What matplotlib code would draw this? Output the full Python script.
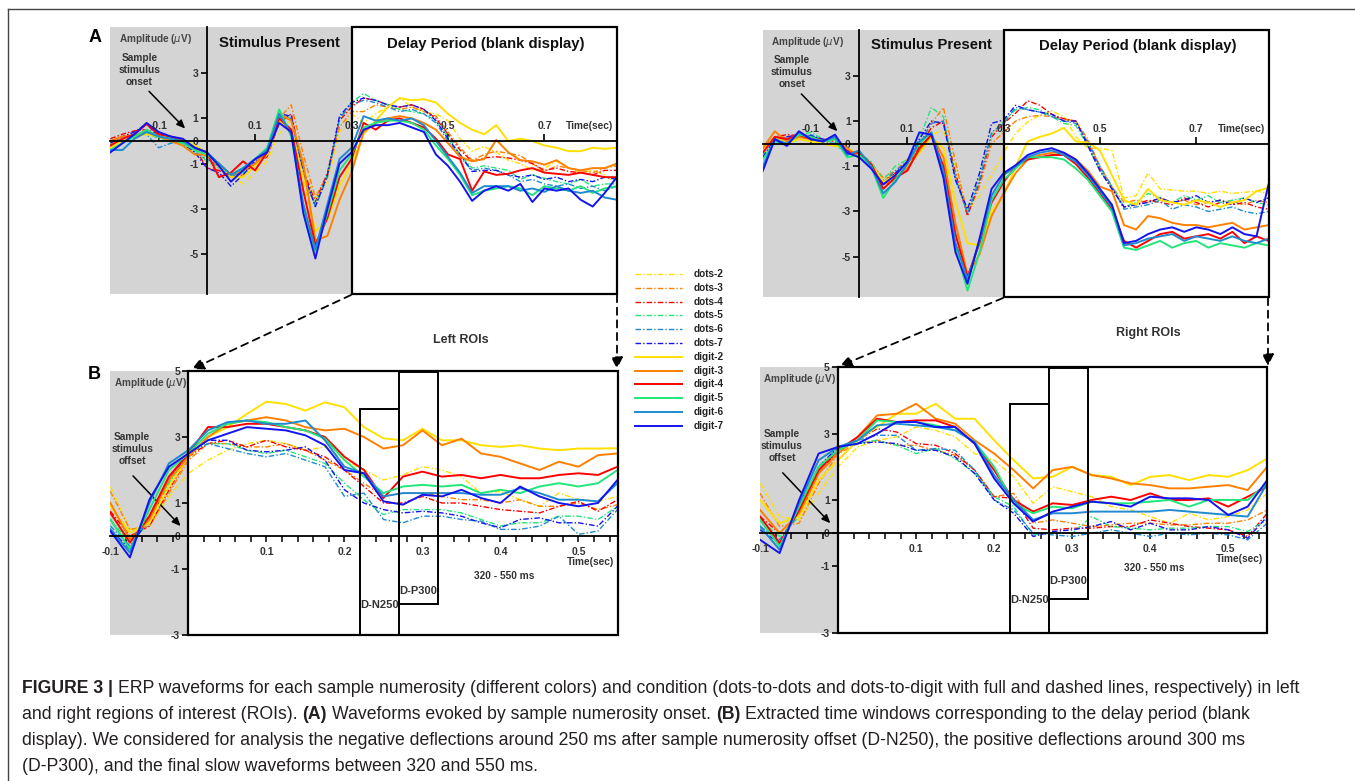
import numpy as np
import matplotlib.pyplot as plt
from matplotlib.patches import Rectangle, FancyArrowPatch
from matplotlib.lines import Line2D

plt.rcParams['font.family'] = ['Liberation Sans', 'DejaVu Sans']

W, H = 1355, 781

names = ['dots-2', 'dots-3', 'dots-4', 'dots-5', 'dots-6', 'dots-7',
         'digit-2', 'digit-3', 'digit-4', 'digit-5', 'digit-6', 'digit-7']
palette = ['#ffe000', '#ff8000', '#ff0000', '#22e67a', '#1f8ad0', '#1414ee']

# time axes (sec)
t_a = np.round(np.arange(-0.2, 0.851, 0.025), 3)
t_b = np.round(np.arange(-0.1, 0.551, 0.025), 3)

# panel A, left ROIs (uV), rows: baseline / stimulus / delay
a_left = {
    'dots-2': [-0.1, 0.1, 0.3, 0.35, 0.2, 0.15, 0.0, -0.3,
               -0.6, -1.1, -1.5, -1.9, -1.4, -0.9, 0.3, 1.0, -1.2, -2.6, -1.8, 0.4, 1.2,
               0.8, 1.2, 1.5, 1.9, 1.5, 1.3, 1.2, 0.9, 0.1, -0.45, -0.25, -0.5, -0.85, -1.0, -1.3, -1.2, -0.9, -1.2, -1.4, -1.3, -1.5, -1.9],
    'dots-3': [0.0, 0.2, 0.3, 0.4, 0.3, 0.1, -0.1, -0.35,
               -0.7, -1.2, -1.6, -1.5, -1.1, -0.6, 1.0, 1.6, -0.6, -2.5, -1.5, 0.6, 1.3,
               1.3, 1.6, 1.5, 1.4, 1.5, 1.3, 1.1, 0.4, -0.3, -0.85, -0.6, -0.45, -0.55, -0.65, -1.0, -1.35, -1.1, -1.2, -1.3, -1.4, -1.2, -1.1],
    'dots-4': [0.1, 0.3, 0.45, 0.5, 0.3, 0.2, 0.0, -0.3,
               -1.2, -1.3, -1.6, -1.4, -1.0, -0.7, 0.8, 1.2, -1.3, -2.7, -1.4, 0.9, 1.5,
               1.9, 1.8, 1.6, 1.5, 1.6, 1.4, 1.0, 0.3, -0.4, -0.9, -0.75, -0.7, -0.75, -0.85, -1.0, -1.3, -1.2, -1.35, -1.4, -1.5, -1.3, -1.3],
    'dots-5': [-0.2, 0.1, 0.25, 0.35, 0.1, -0.05, -0.1, -0.4,
               -0.9, -1.2, -1.5, -1.4, -1.0, -0.5, 1.1, 1.0, -1.6, -2.8, -1.5, 1.0, 1.7,
               2.1, 1.8, 1.6, 1.4, 1.3, 1.2, 0.9, 0.2, -0.6, -1.2, -1.1, -1.2, -1.3, -1.7, -1.5, -1.65, -1.8, -1.9, -1.7, -2.0, -1.9, -1.9],
    'dots-6': [-0.3, 0.0, 0.2, 0.3, -0.3, -0.1, -0.05, -0.5,
               -0.8, -1.1, -1.6, -1.3, -1.0, -0.6, 1.0, 1.0, -1.5, -2.9, -1.6, 1.0, 1.6,
               1.8, 1.7, 1.5, 1.3, 1.4, 1.2, 0.8, 0.0, -0.7, -1.3, -1.2, -1.3, -1.5, -1.8, -1.7, -1.9, -2.0, -1.9, -2.1, -2.0, -2.2, -2.0],
    'dots-7': [-0.1, 0.2, 0.4, 0.75, 0.2, 0.1, -0.1, -0.5,
               -1.2, -1.4, -2.0, -1.5, -0.9, -0.5, 1.2, 1.1, -1.4, -2.9, -1.5, 1.1, 1.7,
               1.9, 1.8, 1.6, 1.5, 1.6, 1.4, 0.9, 0.1, -0.6, -1.35, -1.3, -1.3, -1.5, -1.6, -1.5, -1.7, -1.6, -1.8, -1.7, -1.8, -1.6, -1.7],
    'digit-2': [-0.3, 0.0, 0.2, 0.3, 0.2, 0.15, 0.05, -0.2,
                -0.5, -1.0, -1.6, -1.6, -1.1, -0.6, 0.9, 0.5, -1.6, -4.0, -3.5, -2.0, -1.0,
                0.3, 0.9, 1.5, 1.9, 1.8, 1.85, 1.7, 1.2, 0.8, 0.5, 0.3, 0.7, 0.0, 0.1, 0.0, -0.2, -0.3, -0.45, -0.45, -0.3, -0.35, -0.3],
    'digit-3': [0.0, 0.2, 0.25, 0.4, 0.2, 0.0, -0.2, -0.6,
                -0.6, -1.0, -1.5, -1.3, -1.0, -0.4, 1.2, 0.9, -1.0, -4.4, -4.2, -2.6, -1.4,
                0.4, 0.8, 1.0, 1.1, 1.0, 0.8, 0.5, -0.1, -0.7, -0.9, -0.8, 0.05, -0.5, -0.85, -0.9, -1.05, -0.85, -1.2, -1.3, -1.2, -1.2, -1.0],
    'digit-4': [-0.2, 0.1, 0.3, 0.75, 0.3, 0.2, 0.0, -0.3,
                -0.5, -1.6, -1.4, -0.9, -1.3, -0.5, 1.0, 0.5, -2.2, -4.6, -3.4, -1.6, -0.8,
                0.8, 0.5, 0.9, 1.0, 0.8, 0.6, 0.1, -0.6, -0.8, -2.2, -1.35, -1.5, -1.45, -1.3, -1.2, -1.4, -1.45, -1.5, -1.4, -1.5, -1.6, -1.6],
    'digit-5': [-0.4, -0.1, 0.2, 0.5, 0.2, 0.1, -0.1, -0.4,
                -0.6, -1.0, -1.5, -1.2, -0.8, -0.3, 1.4, 0.2, -3.0, -4.9, -3.2, -1.3, -0.6,
                0.6, 0.8, 0.9, 0.9, 0.8, 0.5, -0.2, -0.8, -1.5, -2.4, -2.2, -2.1, -2.0, -2.1, -2.4, -2.0, -2.1, -2.2, -2.0, -2.3, -2.1, -2.0],
    'digit-6': [-0.4, -0.4, 0.1, 0.4, 0.2, 0.1, 0.0, -0.3,
                -0.5, -1.0, -1.5, -1.2, -0.8, -0.4, 1.2, 0.3, -2.8, -4.8, -2.8, -0.8, -0.3,
                1.1, 0.9, 1.0, 0.9, 1.0, 0.7, 0.0, -0.7, -1.4, -2.3, -2.0, -2.0, -2.0, -2.2, -2.1, -2.25, -2.0, -2.2, -2.3, -2.2, -2.5, -2.6],
    'digit-7': [-0.5, -0.1, 0.3, 0.8, 0.4, 0.2, 0.1, -0.3,
                -0.5, -1.1, -1.8, -1.3, -0.8, -0.5, 0.8, 0.4, -3.2, -5.2, -3.0, -1.0, -0.5,
                0.5, 0.7, 0.7, 0.8, 0.6, 0.4, -0.6, -1.1, -1.8, -2.65, -2.2, -2.0, -2.2, -1.9, -2.7, -2.1, -2.2, -2.1, -2.6, -2.9, -2.3, -1.6],
}

# panel A, right ROIs
a_right = {
    'dots-2': [-0.6, 0.1, 0.2, 0.3, 0.3, 0.1, -0.1, -0.3,
               -0.6, -1.0, -1.6, -1.3, -0.8, -0.3, 0.4, 0.6, -1.0, -3.0, -2.3, -1.4, -0.4,
               0.45, 0.97, 1.26, 1.45, 1.2, 0.3, -0.2, -0.2, -0.3, -2.4, -2.3, -1.3, -2.0, -2.05, -2.1, -2.1, -2.2, -2.1, -2.2, -2.15, -2.1, -2.2],
    'dots-3': [-0.3, 0.2, 0.3, 0.4, 0.3, 0.2, 0.1, -0.2,
               -0.5, -0.9, -1.5, -1.2, -0.7, -0.1, 0.9, 1.6, -0.8, -3.1, -1.9, 0.0, 0.5,
               1.0, 1.2, 1.25, 1.2, 1.1, 1.0, 0.2, -1.0, -1.9, -2.6, -2.5, -2.6, -2.4, -2.6, -2.5, -2.7, -2.6, -2.5, -2.6, -2.7, -2.5, -2.6],
    'dots-4': [-0.2, 0.3, 0.4, 0.35, 0.3, 0.2, 0.1, -0.3,
               -0.5, -1.0, -1.7, -1.3, -1.1, -0.1, 0.7, 1.0, -1.3, -3.2, -1.7, 0.3, 0.9,
               1.35, 1.9, 1.7, 1.3, 1.1, 1.0, 0.0, -1.1, -2.0, -2.8, -2.7, -2.5, -2.6, -2.7, -2.4, -2.6, -2.8, -2.6, -2.7, -2.6, -2.8, -2.9],
    'dots-5': [-0.5, 0.3, 0.1, 0.4, 0.5, 0.2, 0.0, -0.5,
               -0.4, -0.8, -1.6, -1.0, -0.7, 0.2, 1.6, 1.2, -1.6, -3.0, -1.5, 0.4, 1.0,
               1.5, 1.6, 1.5, 1.2, 0.9, 0.8, -0.1, -1.2, -1.9, -2.8, -2.6, -2.2, -2.4, -2.6, -2.3, -2.5, -2.3, -2.6, -2.5, -2.4, -2.6, -2.7],
    'dots-6': [-0.6, 0.1, 0.2, 0.3, 0.4, 0.1, 0.0, -0.4,
               -0.5, -0.9, -1.7, -1.2, -0.8, 0.0, 0.9, 1.0, -1.5, -3.1, -1.6, 0.5, 0.9,
               1.6, 1.5, 1.4, 1.2, 1.0, 0.9, 0.1, -1.0, -1.9, -2.9, -2.8, -2.7, -2.5, -2.9, -2.7, -2.8, -3.0, -2.9, -2.8, -3.0, -3.1, -3.0],
    'dots-7': [-0.6, 0.2, 0.3, 0.4, 0.35, 0.2, 0.2, -0.3,
               -0.6, -1.0, -1.8, -1.3, -0.8, 0.2, 1.0, 0.9, -1.6, -2.9, -1.3, 0.9, 1.05,
               1.7, 1.5, 1.4, 1.3, 1.0, 1.0, -0.1, -1.2, -2.0, -2.8, -2.7, -2.6, -2.4, -2.6, -2.5, -2.3, -2.6, -2.5, -2.7, -2.4, -2.6, -2.4],
    'digit-2': [-0.3, 0.3, 0.0, 0.2, 0.1, 0.0, -0.1, -0.2,
                -0.5, -0.9, -1.7, -1.4, -1.0, -0.4, 0.3, -0.2, -2.6, -4.4, -4.5, -3.0, -2.3,
                -1.0, 0.1, 0.3, 0.45, 0.7, 0.1, 0.05, -0.3, -1.4, -2.5, -2.7, -2.0, -2.5, -2.6, -2.7, -2.5, -2.6, -2.8, -2.6, -2.5, -2.1, -1.95],
    'digit-3': [-0.2, 0.55, 0.1, 0.3, 0.2, 0.1, 0.2, -0.2,
                -0.6, -1.0, -1.8, -1.6, -1.1, -0.3, 0.4, -0.6, -3.5, -5.8, -4.9, -3.2, -2.2,
                -1.3, -0.7, -0.5, -0.4, -0.4, -0.7, -1.2, -1.9, -2.1, -3.6, -3.8, -3.2, -3.3, -3.5, -3.6, -3.6, -3.7, -3.6, -3.5, -3.8, -3.7, -3.6],
    'digit-4': [-0.4, 0.3, 0.2, 0.4, 0.2, 0.1, 0.3, -0.4,
                -0.4, -0.9, -2.0, -1.5, -1.2, -0.2, 0.4, -1.0, -4.0, -5.9, -4.4, -2.6, -1.7,
                -1.0, -0.7, -0.6, -0.5, -0.5, -0.9, -1.5, -2.2, -2.9, -4.3, -4.6, -4.3, -4.0, -3.9, -4.2, -4.1, -4.0, -4.2, -3.9, -4.4, -4.1, -4.3],
    'digit-5': [-0.7, 0.1, 0.0, 0.4, 0.3, 0.1, 0.2, -0.6,
                -0.5, -1.0, -2.4, -1.6, -0.9, 0.0, 0.5, -1.4, -4.6, -6.5, -4.8, -2.5, -1.6,
                -1.1, -0.6, -0.6, -0.6, -0.7, -1.1, -1.6, -2.3, -3.0, -4.6, -4.7, -4.5, -4.3, -4.6, -4.4, -4.3, -4.6, -4.4, -4.5, -4.6, -4.4, -4.5],
    'digit-6': [-1.0, 0.2, 0.0, 0.5, 0.2, 0.1, 0.3, -0.5,
                -0.3, -1.0, -2.2, -1.7, -0.9, 0.1, 0.5, -1.2, -4.4, -6.0, -4.3, -2.3, -1.4,
                -1.0, -0.6, -0.4, -0.3, -0.5, -0.8, -1.4, -2.1, -2.8, -4.5, -4.4, -4.2, -4.1, -4.0, -4.3, -4.1, -4.2, -4.3, -4.1, -4.3, -4.4, -4.2],
    'digit-7': [-1.2, 0.2, -0.1, 0.55, 0.2, 0.1, 0.4, -0.4,
                -0.6, -1.1, -1.8, -1.4, -0.8, 0.5, 0.4, -1.5, -4.8, -6.2, -4.2, -2.0, -1.3,
                -0.95, -0.5, -0.3, -0.2, -0.4, -0.7, -1.3, -2.0, -2.7, -4.4, -4.3, -4.0, -3.8, -3.7, -3.9, -3.7, -3.8, -4.0, -3.7, -4.0, -4.1, -1.8],
}

# panel B, left ROIs (offset-locked, -0.1 .. 0.55 s)
b_left = {
    'dots-2': [1.5, 0.2, 0.3, 1.2, 1.9, 2.3, 2.6, 2.8, 2.9, 2.8, 2.6, 2.7, 2.3, 2.0, 1.7, 1.85, 2.1, 2.0, 1.8, 1.3, 1.35, 1.1, 0.9, 1.3, 1.1, 1.05, 1.2],
    'dots-3': [1.35, 0.2, 0.3, 1.3, 2.3, 2.8, 2.8, 2.7, 2.7, 2.8, 2.6, 2.3, 2.0, 1.6, 1.2, 1.3, 1.3, 1.2, 1.1, 1.1, 1.0, 1.1, 0.9, 0.9, 1.0, 0.8, 0.95],
    'dots-4': [0.75, 0.0, 0.3, 1.4, 2.4, 2.8, 2.9, 2.7, 2.9, 2.7, 2.6, 2.4, 2.0, 1.5, 1.0, 1.0, 1.2, 1.0, 1.0, 0.9, 0.8, 0.75, 0.7, 0.9, 1.05, 0.75, 1.1],
    'dots-5': [0.5, -0.2, 0.4, 1.6, 2.5, 2.8, 2.8, 2.6, 2.5, 2.6, 2.4, 2.2, 1.6, 1.1, 0.65, 0.8, 0.8, 0.8, 0.7, 0.5, 0.3, 0.4, 0.4, 0.6, 0.6, 0.5, 0.9],
    'dots-6': [0.3, -0.3, 0.5, 1.8, 2.5, 2.8, 2.65, 2.5, 2.4, 2.5, 2.3, 2.1, 1.2, 1.3, 0.5, 0.4, 0.6, 0.6, 0.5, 0.45, 0.2, 0.2, 0.3, 0.6, 0.05, 0.15, 0.8],
    'dots-7': [0.2, -0.4, 0.6, 1.7, 2.5, 2.9, 2.9, 2.6, 2.55, 2.6, 2.7, 2.3, 1.4, 1.0, 0.8, 0.7, 0.75, 0.7, 0.6, 0.4, 0.25, 0.5, 0.55, 0.4, 0.4, 0.3, 0.9],
    'digit-2': [0.9, 0.1, 0.4, 1.5, 2.4, 3.0, 3.3, 3.7, 4.07, 4.0, 3.8, 4.05, 3.9, 3.3, 2.96, 2.9, 3.25, 2.9, 2.9, 2.75, 2.7, 2.75, 2.65, 2.6, 2.65, 2.65, 2.66],
    'digit-3': [1.0, -0.1, 0.5, 1.7, 2.4, 3.0, 3.4, 3.5, 3.6, 3.5, 3.3, 3.2, 3.25, 3.0, 2.65, 2.75, 3.2, 2.75, 2.95, 2.5, 2.4, 2.2, 2.0, 2.25, 2.1, 2.45, 2.5],
    'digit-4': [0.7, -0.2, 0.6, 1.8, 2.5, 3.3, 3.3, 3.4, 3.4, 3.3, 3.2, 3.0, 2.4, 2.0, 1.15, 1.8, 1.95, 1.8, 1.85, 1.75, 1.85, 1.75, 1.75, 1.85, 1.9, 1.85, 2.1],
    'digit-5': [0.5, -0.4, 0.8, 2.0, 2.5, 3.1, 3.4, 3.5, 3.45, 3.3, 3.2, 2.95, 2.3, 1.8, 1.3, 1.5, 1.55, 1.5, 1.55, 1.3, 1.4, 1.3, 1.5, 1.6, 1.5, 1.6, 2.0],
    'digit-6': [0.2, -0.5, 1.0, 2.2, 2.6, 3.2, 3.45, 3.5, 3.4, 3.4, 3.5, 2.9, 2.1, 1.9, 1.2, 1.3, 1.3, 1.3, 1.3, 1.25, 1.25, 1.45, 1.3, 1.1, 1.1, 1.05, 1.6],
    'digit-7': [0.15, -0.65, 1.1, 2.1, 2.5, 2.9, 3.1, 3.3, 3.25, 3.2, 3.05, 2.75, 2.0, 1.9, 1.05, 0.95, 1.25, 1.2, 1.4, 1.15, 1.0, 1.5, 1.2, 1.0, 0.9, 1.0, 1.7],
}

# panel B, right ROIs
b_right = {
    'dots-2': [1.5, 0.5, 0.4, 1.2, 2.0, 2.6, 2.8, 2.9, 3.2, 3.1, 2.9, 2.4, 2.2, 1.7, 0.9, 1.4, 1.25, 1.1, 0.8, 0.7, 0.5, 0.3, 0.6, 0.4, 0.5, 0.7, 1.2],
    'dots-3': [1.2, 0.2, 0.3, 1.5, 2.4, 2.7, 2.8, 2.65, 2.65, 2.5, 2.35, 1.9, 1.1, 1.2, 0.3, 0.4, 0.3, 0.2, 0.25, 0.3, 0.3, 0.25, 0.25, 0.3, 0.3, 0.4, 0.7],
    'dots-4': [0.5, 0.0, 0.6, 1.8, 2.5, 2.8, 3.15, 3.05, 2.7, 2.65, 2.4, 1.9, 1.1, 1.05, 0.15, 0.1, 0.15, 0.15, 0.2, 0.2, 0.4, 0.3, 0.2, 0.15, 0.1, -0.1, 0.6],
    'dots-5': [0.4, -0.1, 0.5, 1.9, 2.5, 2.7, 2.8, 2.65, 2.4, 2.55, 2.25, 1.8, 1.1, 0.8, -0.05, 0.0, 0.0, 0.5, 0.2, 0.15, 0.1, 0.15, 0.15, 0.2, 0.2, 0.05, 0.4],
    'dots-6': [0.2, -0.2, 0.6, 1.9, 2.6, 2.8, 2.95, 2.95, 2.5, 2.55, 2.5, 1.9, 1.0, 0.7, 0.0, -0.05, -0.1, 0.0, 0.1, 0.0, -0.1, 0.0, -0.05, 0.0, -0.05, -0.2, 0.3],
    'dots-7': [0.1, -0.3, 0.7, 2.0, 2.6, 2.7, 2.75, 2.7, 2.5, 2.5, 2.3, 1.8, 1.0, 0.6, -0.1, 0.05, 0.1, 0.2, 0.35, 0.1, 0.3, 0.1, 0.1, 0.2, 0.1, -0.15, 0.5],
    'digit-2': [1.0, 0.3, 0.5, 1.6, 2.2, 2.8, 3.2, 3.6, 3.6, 3.9, 3.45, 3.45, 2.8, 2.2, 1.65, 1.7, 2.0, 1.75, 1.7, 1.45, 1.7, 1.75, 1.6, 1.75, 1.7, 1.9, 2.25],
    'digit-3': [0.7, 0.0, 0.6, 1.8, 2.4, 2.9, 3.55, 3.6, 3.9, 3.45, 3.3, 2.8, 2.4, 1.9, 1.35, 1.9, 2.0, 1.75, 1.65, 1.5, 1.45, 1.35, 1.35, 1.4, 1.45, 1.3, 2.0],
    'digit-4': [0.5, -0.3, 0.7, 1.9, 2.5, 2.9, 3.45, 3.35, 3.4, 3.4, 3.2, 2.7, 1.9, 1.0, 0.65, 0.9, 0.85, 1.0, 1.1, 1.0, 1.2, 1.0, 1.0, 1.05, 0.8, 1.1, 1.4],
    'digit-5': [0.4, -0.4, 0.8, 2.0, 2.5, 2.8, 3.4, 3.35, 3.35, 3.25, 3.1, 2.75, 2.0, 0.9, 0.6, 0.8, 0.75, 0.95, 0.9, 0.9, 0.95, 1.0, 0.8, 1.0, 1.0, 1.0, 1.5],
    'digit-6': [0.2, -0.5, 0.9, 2.2, 2.6, 2.8, 3.25, 3.3, 3.25, 3.2, 3.1, 2.75, 1.75, 1.0, 0.4, 0.6, 0.6, 0.65, 0.65, 0.65, 0.65, 0.7, 0.65, 0.6, 0.55, 0.5, 1.5],
    'digit-7': [-0.2, -0.6, 1.0, 2.4, 2.6, 2.7, 3.0, 3.35, 3.35, 3.2, 3.2, 2.7, 1.65, 0.9, 0.35, 0.65, 0.8, 0.95, 0.9, 0.8, 1.1, 1.05, 1.05, 1.0, 0.55, 0.8, 1.6],
}

dash = (0, (4, 1.5, 1, 1.5))
txt = dict(fontweight='bold', color='#333333')
gray = '#d4d4d4'


def px_box(x0, y0, x1, y1):
    return [x0 / W, 1 - y1 / H, (x1 - x0) / W, (y1 - y0) / H]


def fx(x):
    return x / W


def fy(y):
    return 1 - y / H


def draw_waves(ax, t, data):
    for i, name in enumerate(names[:6]):
        ax.plot(t, data[name], color=palette[i], lw=1.0, ls=dash, zorder=3)
    for i, name in enumerate(names[6:]):
        ax.plot(t, data[name], color=palette[i], lw=1.4, zorder=4)


def axes_common(ax):
    for s in ['top', 'right']:
        ax.spines[s].set_visible(False)
    for s in ['left', 'bottom']:
        ax.spines[s].set_position(('data', 0))
        ax.spines[s].set_linewidth(1.3)
        ax.spines[s].set_zorder(5)
    ax.patch.set_alpha(0)


def panel_a(ax, data):
    ax.set_xlim(-0.2, 0.85)
    ax.set_ylim(-6.77, 5.03)
    axes_common(ax)
    ax.axvspan(-0.2, 0.3, color=gray, lw=0, zorder=0)
    ax.add_patch(Rectangle((0.3, -6.77), 0.55, 11.8, fill=False, ec='k', lw=1.6,
                           zorder=6, clip_on=False))
    ax.set_yticks([3, 1, 0, -1, -3, -5])
    ax.set_yticklabels(['3', '1', '0', '-1', '-3', '-5'])
    ax.set_xticks([-0.1, 0.1, 0.3, 0.5, 0.7])
    ax.set_xticklabels([])
    ax.tick_params(axis='x', direction='in', length=5, width=1.2)
    ax.tick_params(axis='y', direction='out', length=4, width=1.2, labelsize=7.5, pad=2)
    for lab in ax.get_yticklabels():
        lab.set_fontweight('bold')
        lab.set_color('#333333')
    for x, s in zip([-0.1, 0.1, 0.3, 0.5, 0.7], ['-0.1', '0.1', '0.3', '0.5', '0.7']):
        ax.text(x, 0.65, s, ha='center', va='center', fontsize=7.5, zorder=7, **txt)
    ax.text(0.793, 0.66, 'Time(sec)', ha='center', va='center', fontsize=7.3, zorder=7, **txt)
    draw_waves(ax, t_a, data)
    ax.text(0.15, 4.35, 'Stimulus Present', ha='center', va='center', fontsize=10.7,
            fontweight='bold', color='#111111')
    ax.text(0.578, 4.3, 'Delay Period (blank display)', ha='center', va='center',
            fontsize=10.7, fontweight='bold', color='#111111')
    ax.text(-0.107, 4.5, r'Amplitude ($\mu$V)', ha='center', va='center', fontsize=7.2,
            fontweight='bold', color='#444444')
    ax.text(-0.14, 3.15, 'Sample\nstimulus\nonset', ha='center', va='center', fontsize=7.3,
            linespacing=1.25, **txt)
    ax.annotate('', xy=(-0.045, 0.55), xytext=(-0.12, 2.2),
                arrowprops=dict(arrowstyle='-|>,head_length=0.5,head_width=0.22',
                                color='k', lw=1.1, shrinkA=0, shrinkB=0))


def panel_b(ax, data, n_top, p_bot, win_y, n_y, p_y):
    ax.set_xlim(-0.1, 0.55)
    ax.set_ylim(-3, 5)
    axes_common(ax)
    ax.axvspan(-0.1, 0, color=gray, lw=0, zorder=0)
    ax.add_patch(Rectangle((0, -3), 0.55, 8, fill=False, ec='k', lw=1.6, zorder=6,
                           clip_on=False))
    ax.set_yticks([5, 3, 1, 0, -1, -3])
    ax.set_yticklabels(['5', '3', '1', '0', '-1', '-3'])
    ax.tick_params(axis='y', direction='out', length=4, width=1.2, labelsize=7.5, pad=2)
    for lab in ax.get_yticklabels():
        lab.set_fontweight('bold')
        lab.set_color('#333333')
    xt = np.round(np.arange(-0.08, 0.541, 0.02), 2)
    ax.set_xticks(xt)
    ax.set_xticklabels([])
    ax.tick_params(axis='x', direction='out', length=4, width=1.1)
    for x, s in zip([-0.1, 0.1, 0.2, 0.3, 0.4, 0.5],
                    ['-0.1', '0.1', '0.2', '0.3', '0.4', '0.5']):
        ax.text(x, -0.48, s, ha='center', va='center', fontsize=7.5, zorder=7, **txt)
    ax.text(0.515, -0.79, 'Time(sec)', ha='center', va='center', fontsize=7.3, **txt)
    draw_waves(ax, t_b, data)
    ax.add_patch(Rectangle((0.22, -3), 0.05, n_top + 3, fill=False, ec='k', lw=1.4,
                           zorder=6, clip_on=False))
    ax.add_patch(Rectangle((0.27, p_bot), 0.05, 4.97 - p_bot, fill=False, ec='k', lw=1.4,
                           zorder=6, clip_on=False))
    ax.text(0.245, n_y, 'D-N250', ha='center', va='center', fontsize=8, **txt)
    ax.text(0.295, p_y, 'D-P300', ha='center', va='center', fontsize=8, **txt)
    ax.text(0.405, win_y, '320 - 550 ms', ha='center', va='center', fontsize=7.3, **txt)
    ax.text(-0.049, 4.65, r'Amplitude ($\mu$V)', ha='center', va='center', fontsize=7.2,
            fontweight='bold', color='#444444')
    ax.text(-0.072, 2.63, 'Sample\nstimulus\noffset', ha='center', va='center',
            fontsize=7.3, linespacing=1.25, **txt)
    ax.annotate('', xy=(-0.01, 0.3), xytext=(-0.071, 1.82),
                arrowprops=dict(arrowstyle='-|>,head_length=0.5,head_width=0.22',
                                color='k', lw=1.1, shrinkA=0, shrinkB=0))


fig = plt.figure(figsize=(W / 100, H / 100), dpi=100)

ax1 = fig.add_axes(px_box(110.4, 27.3, 616.8, 294))
ax2 = fig.add_axes(px_box(762.8, 30, 1268.5, 296.7))
ax3 = fig.add_axes(px_box(110.4, 371, 617.5, 635))
ax4 = fig.add_axes(px_box(760.1, 367.3, 1267.2, 632.7))

panel_a(ax1, a_left)
panel_a(ax2, a_right)
panel_b(ax3, b_left, 3.86, -2.06, -1.2, -2.08, -1.66)
panel_b(ax4, b_right, 3.88, -1.97, -1.04, -2.02, -1.44)

# panel letters and ROI titles
fig.text(fx(95), fy(37), 'A', ha='center', va='center', fontsize=13, fontweight='bold')
fig.text(fx(94.5), fy(375), 'B', ha='center', va='center', fontsize=13, fontweight='bold')
fig.text(fx(461), fy(340), 'Left ROIs', ha='center', va='center', fontsize=9, **txt)
fig.text(fx(1148), fy(333), 'Right ROIs', ha='center', va='center', fontsize=9, **txt)

# legend
for i, name in enumerate(names):
    y = fy(274 + i * 13.8)
    if i < 6:
        ln = Line2D([fx(635), fx(682)], [y, y], color=palette[i], lw=1.0, ls=dash,
                    transform=fig.transFigure)
    else:
        ln = Line2D([fx(635), fx(682)], [y, y], color=palette[i - 6], lw=1.4,
                    transform=fig.transFigure)
    fig.add_artist(ln)
    fig.text(fx(694), y, name, ha='left', va='center', fontsize=7.2, fontweight='bold',
             color='#222222')

# dashed connectors between A and B
for (xa, ya), (xb, yb) in [((351, 295), (192, 369)), ((617, 295), (617, 369)),
                           ((1003, 298), (840, 366)), ((1268, 298), (1268, 366))]:
    fig.add_artist(FancyArrowPatch((fx(xa), fy(ya)), (fx(xb), fy(yb)),
                                   transform=fig.transFigure,
                                   arrowstyle='-|>,head_length=7,head_width=3.5',
                                   mutation_scale=1, color='k', lw=1.3,
                                   linestyle=(0, (4, 3)), shrinkA=0, shrinkB=0))

# outer frame
fig.add_artist(Line2D([fx(8), fx(8)], [0, fy(9)], color='#444444', lw=1.0,
                      transform=fig.transFigure))
fig.add_artist(Line2D([fx(8), 1], [fy(9), fy(9)], color='#444444', lw=1.0,
                      transform=fig.transFigure))

# caption, mixed bold / regular runs
cap_size = 12.7
cap_color = '#231f20'
renderer = fig.canvas.get_renderer()


def text_width(s, bold):
    t = fig.text(0, 0, s, fontsize=cap_size, fontweight='bold' if bold else 'normal')
    w = t.get_window_extent(renderer=renderer).width
    t.remove()
    return w


space_w = text_width('a a', False) - text_width('aa', False)

caption = [
    [('FIGURE 3 |', True),
     ('ERP waveforms for each sample numerosity (different colors) and condition '
      '(dots-to-dots and dots-to-digit with full and dashed lines, respectively) in left', False)],
    [('and right regions of interest (ROIs).', False), ('(A)', True),
     ('Waveforms evoked by sample numerosity onset.', False), ('(B)', True),
     ('Extracted time windows corresponding to the delay period (blank', False)],
    [('display). We considered for analysis the negative deflections around 250 ms after '
      'sample numerosity offset (D-N250), the positive deflections around 300 ms', False)],
    [('(D-P300), and the final slow waveforms between 320 and 550 ms.', False)],
]

for k, runs in enumerate(caption):
    x = 22.0
    y = fy(693 + 26 * k)
    for s, bold in runs:
        t = fig.text(fx(x), y, s, fontsize=cap_size, va='baseline', color=cap_color,
                     fontweight='bold' if bold else 'normal')
        x += t.get_window_extent(renderer=renderer).width + space_w

fig.savefig('out.png', dpi=100)
